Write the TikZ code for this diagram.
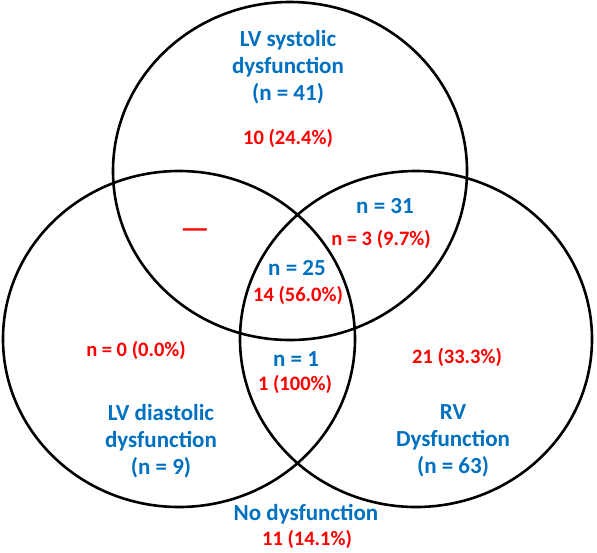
\documentclass[tikz,border=0pt]{standalone}
\usepackage{fontspec}
\setmainfont{Carlito}
\definecolor{vennblue}{RGB}{0,112,192}
\definecolor{vennred}{RGB}{255,0,0}

\begin{document}
\begin{tikzpicture}[x=1pt,y=-1pt,
  ring/.style={line width=2.6pt},
  grp/.style={font=\fontsize{23}{27}\selectfont\bfseries,text=vennblue,
  align=center,inner sep=0pt},
  cnt/.style={font=\fontsize{20.5}{25}\selectfont\bfseries,text=vennred,
  align=center,inner sep=0pt}]
  \useasboundingbox (0,0) rectangle (597,552);
  % the three sets
  \draw[ring] (290,171) ellipse [x radius=177pt,y radius=169pt];
  \draw[ring] (179,339) ellipse [x radius=176pt,y radius=168pt];
  \draw[ring] (416,339) ellipse [x radius=176pt,y radius=168pt];
  % group labels
  \node[grp] (sys) at (288,67) {LV systolic\\dysfunction\\(n = 41)};
  \node[grp] (dia) at (161,441) {LV diastolic\\dysfunction\\(n = 9)};
  \node[grp] (rv) at (453,441) {RV\\Dysfunction\\(n = 63)};
  \node[grp] (sysrv) at (385,206) {n = 31};
  \node[grp] (all) at (297,268) {n = 25};
  \node[grp] (diarv) at (296,359) {n = 1};
  \node[grp] (none) at (306,514) {No dysfunction};
  % counts
  \node[cnt] (sysc) at (288,138) {10 (24.4\%)};
  \node[cnt] (sysrvc) at (381,239) {n = 3 (9.7\%)};
  \node[cnt] (sysdiac) at (195,233) {\scalebox{1.6}[1.3]{—}};
  \node[cnt] (allc) at (298,295) {14 (56.0\%)};
  \node[cnt] (diac) at (136,350) {n = 0 (0.0\%)};
  \node[cnt] (diarvc) at (295,384) {1 (100\%)};
  \node[cnt] (rvc) at (457,357) {21 (33.3\%)};
  \node[cnt] (nonec) at (307,539) {11 (14.1\%)};
\end{tikzpicture}
\end{document}
